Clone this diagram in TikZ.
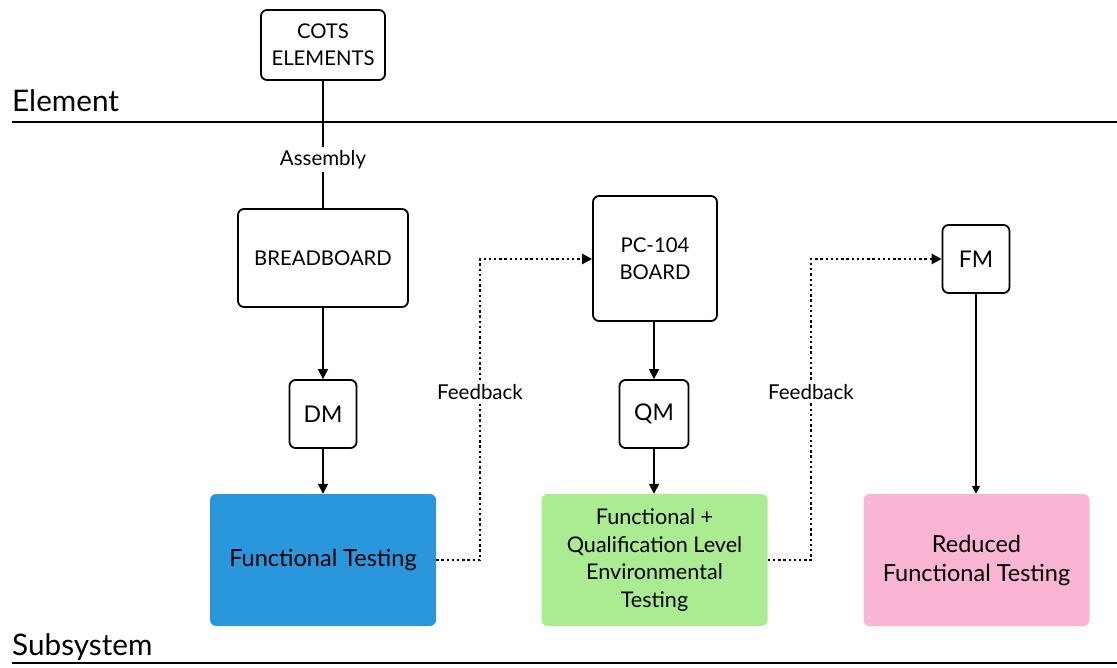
\documentclass[tikz,border=0pt]{standalone}
\usepackage{fontspec}
\setmainfont{Lato}
\usetikzlibrary{arrows.meta}
\begin{document}
\begin{tikzpicture}[x=1pt,y=-1pt,
  box/.style={draw=black,line width=1.8pt,rounded corners=6pt,align=center,font=\fontsize{20.3}{27}\selectfont,inner sep=0pt},
  fill box/.style={rounded corners=6pt,align=center,font=\fontsize{23.5}{29}\selectfont,inner sep=0pt,minimum width=226pt,minimum height=132pt},
  conn/.style={line width=1.6pt,-{Triangle[length=10pt,width=10pt]}},
  plain/.style={line width=1.6pt},
  fb/.style={line width=2.4pt,dash pattern=on 2.4pt off 2.8pt,-{Triangle[length=10pt,width=10pt]}},
  lbl/.style={font=\fontsize{20.5}{24}\selectfont,fill=white,inner sep=3pt},
  level/.style={font=\fontsize{29.7}{32}\selectfont,anchor=base west,inner sep=0pt}]
\useasboundingbox (0,0) rectangle (1117,668);
\definecolor{cblue}{HTML}{2A96DB}
\definecolor{cgreen}{HTML}{ABEC93}
\definecolor{cpink}{HTML}{FBB5D4}

\node[level] (elem) at (12,112) {Element};
\node[level] (sub) at (12,655) {Subsystem};
\coordinate (l1a) at (12,122); \coordinate (l1b) at (1117,122);
\coordinate (l2a) at (12,663); \coordinate (l2b) at (1117,663);
\draw[line width=2pt] (l1a) -- (l1b);
\draw[line width=2pt] (l2a) -- (l2b);

\node[box,minimum width=124pt,minimum height=70pt] (cots) at (323,45) {COTS\\ELEMENTS};
\node[box,minimum width=170pt,minimum height=98pt] (bb) at (323,258) {BREADBOARD};
\node[box,minimum width=67pt,minimum height=68pt,font=\fontsize{23}{25}\selectfont] (dm) at (323,414) {DM};
\node[fill box,fill=cblue] (ft) at (323,560) {Functional Testing};

\node[box,minimum width=124pt,minimum height=125pt] (pc) at (655,258.5) {PC-104\\BOARD};
\node[box,minimum width=69pt,minimum height=68pt,font=\fontsize{23}{25}\selectfont] (qm) at (654,414) {QM};
\node[fill box,fill=cgreen,font=\fontsize{21.6}{27.5}\selectfont] (qt) at (654.5,560) {Functional +\\Qualification Level\\Environmental\\Testing};

\node[box,minimum width=67pt,minimum height=68pt,font=\fontsize{23}{25}\selectfont] (fm) at (976,259) {FM};
\node[fill box,fill=cpink] (rt) at (976.5,560) {Reduced\\Functional Testing};

\draw[plain] (cots) -- node[lbl,pos=0.62] {Assembly} (bb);
\draw[conn] (bb) -- (dm);
\draw[conn] (dm) -- (ft);
\draw[conn] (pc.south -| qm) -- (qm);
\draw[conn] (qm) -- (qt.north -| qm);
\draw[line width=1.6pt,-{Triangle[length=8pt,width=8pt]}] (fm) -- (rt.north -| fm);

\coordinate (c1) at (480,560);
\coordinate (c2) at (811,560);
\draw[fb] (ft.east) -- (c1) |- node[lbl,pos=0.279] {Feedback} (pc.west |- fm);
\draw[fb] (qt.east) -- (c2) |- node[lbl,pos=0.279] {Feedback} (fm.west);
\end{tikzpicture}
\end{document}
